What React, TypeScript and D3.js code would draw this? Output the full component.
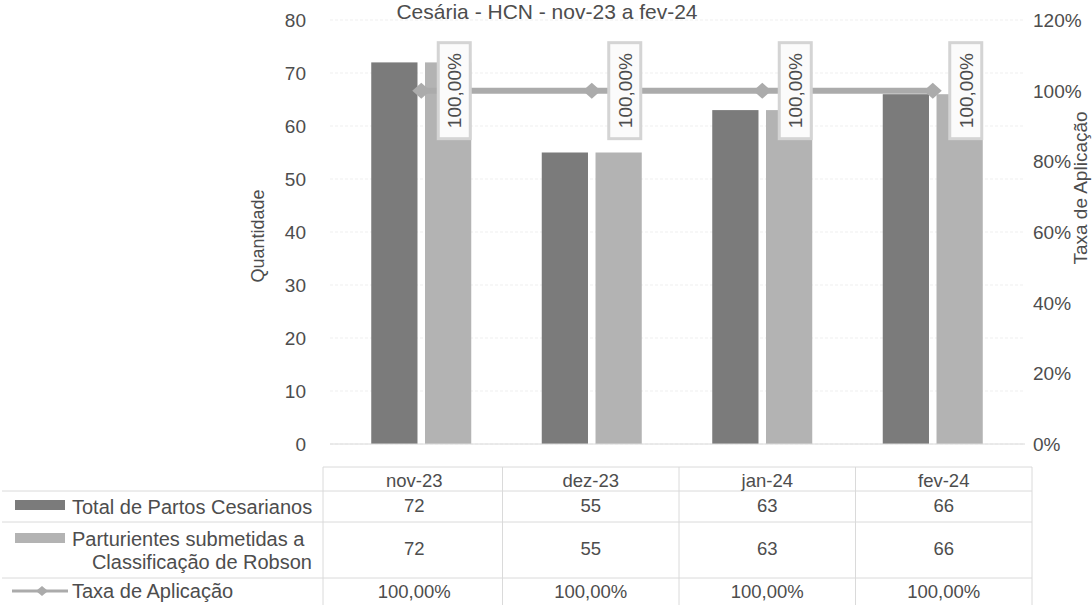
import React from "react";
import * as d3 from "d3";

const categories = ["nov-23", "dez-23", "jan-24", "fev-24"];
const totalPartos = [72, 55, 63, 66];
const parturientesRobson = [72, 55, 63, 66];
const taxaAplicacao = [1.0, 1.0, 1.0, 1.0];
const leftTicks = [0, 10, 20, 30, 40, 50, 60, 70, 80];
const rightTicks = [0, 0.2, 0.4, 0.6, 0.8, 1.0, 1.2];
const seriesNames = ["Total de Partos Cesarianos", "Parturientes submetidas a Classificação de Robson", "Taxa de Aplicação"];

const W = 1092;
const H = 605;
const FONT = "'Liberation Sans', Arial, sans-serif";
const TXT = "#4d4d4d";

export default function App() {
  const plotT = 20, plotB = 444;
  const x = d3.scaleBand<string>().domain(categories).range([336, 1018]);
  const xt = d3.scaleBand<string>().domain(categories).range([326, 1032]);
  const inner = d3.scaleBand<string>().domain(["a", "b"]).range([-50, 50]).paddingInner(0.14);
  const y = d3.scaleLinear().domain([0, 80]).range([plotB, plotT]);
  const yR = d3.scaleLinear().domain([0, 1.2]).range([plotB, plotT]);
  const fmtPct = (v: number) => (v * 100).toFixed(2).replace(".", ",") + "%";
  const fmtAxisPct = d3.format(".0%");

  const cx = (c: string) => (x(c) as number) + x.bandwidth() / 2;
  const cxt = (c: string) => (xt(c) as number) + xt.bandwidth() / 2;
  const linePts: [number, number][] = categories.map((c, i) => [cx(c), yR(taxaAplicacao[i])]);
  const line = d3.line()(linePts) || "";

  const darkFill = "#7b7b7b";
  const lightFill = "#b3b3b3";
  const lineCol = "#ababab";

  const tTop = 467, hdrB = 491, r1B = 522, r2B = 578, tBot = 605;
  const tableLine = "#dadada";

  const diamond = (px: number, py: number, sx: number, sy: number) =>
    `M${px},${py - sy}L${px + sx},${py}L${px},${py + sy}L${px - sx},${py}Z`;

  return (
    <svg width={W} height={H} style={{ position: "absolute", left: 0, top: 0, background: "#fff" }} fontFamily={FONT}>
      <text x={547} y={19} textAnchor="middle" fontSize={21} fill={TXT}>Cesária - HCN - nov-23 a fev-24</text>

      {leftTicks.map((t) => (
        <line key={"g" + t} x1={330} x2={1025} y1={y(t)} y2={y(t)} stroke="#efefef" strokeDasharray="3,2" />
      ))}

      {leftTicks.map((t) => (
        <text key={"l" + t} x={306} y={y(t) + 7} textAnchor="end" fontSize={19} fill={TXT}>{t}</text>
      ))}
      <text transform={`translate(264,${236}) rotate(-90)`} textAnchor="middle" fontSize={18} fill={TXT}>Quantidade</text>

      {rightTicks.map((t) => (
        <text key={"r" + t} x={1033} y={yR(t) + 7} textAnchor="start" fontSize={19} fill={TXT}>{fmtAxisPct(t)}</text>
      ))}
      <text transform={`translate(1087,${188}) rotate(-90)`} textAnchor="middle" fontSize={19} fill={TXT}>Taxa de Aplicação</text>

      {categories.map((c, i) => (
        <g key={"b" + c}>
          <rect x={cx(c) + (inner("a") as number)} y={y(totalPartos[i])} width={inner.bandwidth()} height={plotB - y(totalPartos[i])} fill={darkFill} />
          <rect x={cx(c) + (inner("b") as number)} y={y(parturientesRobson[i])} width={inner.bandwidth()} height={plotB - y(parturientesRobson[i])} fill={lightFill} />
        </g>
      ))}

      <path d={line} fill="none" stroke={lineCol} strokeWidth={6} />
      {linePts.map(([px, py], i) => (
        <path key={"m" + i} d={diamond(px, py, 9, 8)} fill={lineCol} />
      ))}

      {linePts.map(([px, py], i) => (
        <g key={"dl" + i} transform={`translate(${px + 33},${py}) rotate(-90)`}>
          <rect x={-48} y={-16} width={96} height={32} fill="#fbfbfb" stroke="#d4d4d4" strokeWidth={3} />
          <text x={0} y={7} textAnchor="middle" fontSize={19} fill={TXT}>{fmtPct(taxaAplicacao[i])}</text>
        </g>
      ))}

      <line x1={330} x2={1025} y1={plotB} y2={plotB} stroke="#dadada" />

      <line x1={323} x2={1032} y1={tTop} y2={tTop} stroke={tableLine} />
      {[hdrB, r1B, r2B].map((yy) => (
        <line key={"h" + yy} x1={2} x2={1032} y1={yy} y2={yy} stroke={tableLine} />
      ))}
      {[323, ...categories.map((c) => (xt(c) as number) + xt.bandwidth())].map((xx, i) => (
        <line key={"v" + i} x1={xx} x2={xx} y1={tTop} y2={tBot} stroke={tableLine} />
      ))}
      {categories.map((c, i) => (
        <g key={"t" + c} fontSize={18.5} fill={TXT} textAnchor="middle">
          <text x={cxt(c)} y={487}>{c}</text>
          <text x={cxt(c)} y={512}>{totalPartos[i]}</text>
          <text x={cxt(c)} y={555}>{parturientesRobson[i]}</text>
          <text x={cxt(c)} y={598}>{fmtPct(taxaAplicacao[i])}</text>
        </g>
      ))}

      <rect x={15} y={500} width={50} height={10} fill={darkFill} />
      <text x={72} y={514} fontSize={20} fill={TXT}>{seriesNames[0]}</text>
      <rect x={15} y={533} width={50} height={10} fill={lightFill} />
      <text x={72} y={546} fontSize={20} fill={TXT}>Parturientes submetidas a</text>
      <text x={312} y={569} fontSize={20} fill={TXT} textAnchor="end">Classificação de Robson</text>
      <line x1={12} x2={68} y1={591} y2={591} stroke={lineCol} strokeWidth={3} />
      <path d={diamond(42, 591, 6, 5)} fill={lineCol} />
      <text x={72} y={598} fontSize={20} fill={TXT}>{seriesNames[2]}</text>
    </svg>
  );
}
